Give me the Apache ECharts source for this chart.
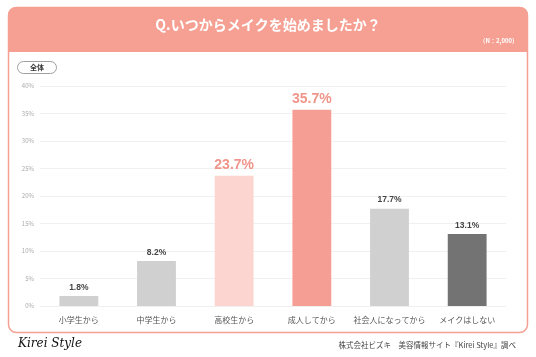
<!DOCTYPE html>
<html><head><meta charset="utf-8">
<script src="https://cdn.jsdelivr.net/npm/echarts@6/dist/echarts.min.js"></script>
<style>html,body{margin:0;padding:0;background:#fff}#c{width:536px;height:357px}</style>
</head><body><div id="c"></div>
<script>
const categories = ['小学生から','中学生から','高校生から','成人してから','社会人になってから','メイクはしない'];
const values = [1.8, 8.2, 23.7, 35.7, 17.7, 13.1];
const yTicks = [0, 5, 10, 15, 20, 25, 30, 35, 40];
const barColors = ['#d0d0d0','#d0d0d0','#fcd5d0','#f59e93','#d0d0d0','#737373'];
const highlight = [false,false,true,true,false,false];
const FONT = '"Noto Sans CJK JP","Noto Sans",sans-serif';
const chart = echarts.init(document.getElementById('c'));
chart.setOption({
  animation:false,
  backgroundColor:'#fff',
  grid:{left:40,right:30,top:86,bottom:51,containLabel:false},
  xAxis:{type:'category',data:categories,
    axisLine:{show:false},axisTick:{show:false},
    axisLabel:{interval:0,color:'#555',fontSize:8,fontFamily:FONT,margin:10}},
  yAxis:{type:'value',min:yTicks[0],max:yTicks[yTicks.length-1],interval:5,
    axisLine:{show:false},axisTick:{show:false},
    splitLine:{lineStyle:{color:'#f0f0f0',width:1}},
    axisLabel:{formatter:'{value}%',color:'#aaa',fontSize:6,fontFamily:FONT,margin:6}},
  series:[{type:'bar',barWidth:'50%',
    data:values.map((v,i)=>({value:v,itemStyle:{color:barColors[i]},
      label:highlight[i]?{fontSize:14,color:'#f0958a',fontWeight:'bold'}:{fontSize:8.5,color:'#444',fontWeight:'bold'}})),
    label:{show:true,position:'top',distance:4,formatter:p=>p.value.toFixed(1)+'%',fontFamily:'"Liberation Sans",Arial,sans-serif'}}],
  graphic:[
    {type:'rect',z:-10,shape:{x:8.5,y:7.5,width:519,height:325,r:8},style:{fill:'#fff',stroke:'#f5a093',lineWidth:1.5}},
    {type:'rect',z:-9,shape:{x:8,y:7,width:520,height:45,r:[8,8,0,0]},style:{fill:'#f5a093'}},
    {type:'text',left:'center',top:18,style:{text:'Q.いつからメイクを始めましたか？',fill:'#fff',font:'bold 14px '+FONT}},
    {type:'text',right:18,top:38,style:{text:'（N：2,000）',fill:'#fff',font:'bold 6px '+FONT}},
    {type:'rect',shape:{x:17.5,y:61.5,width:39,height:12,r:6},style:{fill:'#fff',stroke:'#888',lineWidth:0.8}},
    {type:'text',x:37,y:67.5,style:{text:'全体',fill:'#333',font:'bold 7px '+FONT,align:'center',verticalAlign:'middle'}},
    {type:'text',x:18,y:338,style:{text:'Kirei Style',fill:'#111',font:'italic 12px "DejaVu Serif",serif'}},
    {type:'text',right:20,top:341,style:{text:'株式会社ビズキ　美容情報サイト『Kirei Style』調べ',fill:'#444',font:'7.5px '+FONT}}
  ]
});
</script></body></html>
